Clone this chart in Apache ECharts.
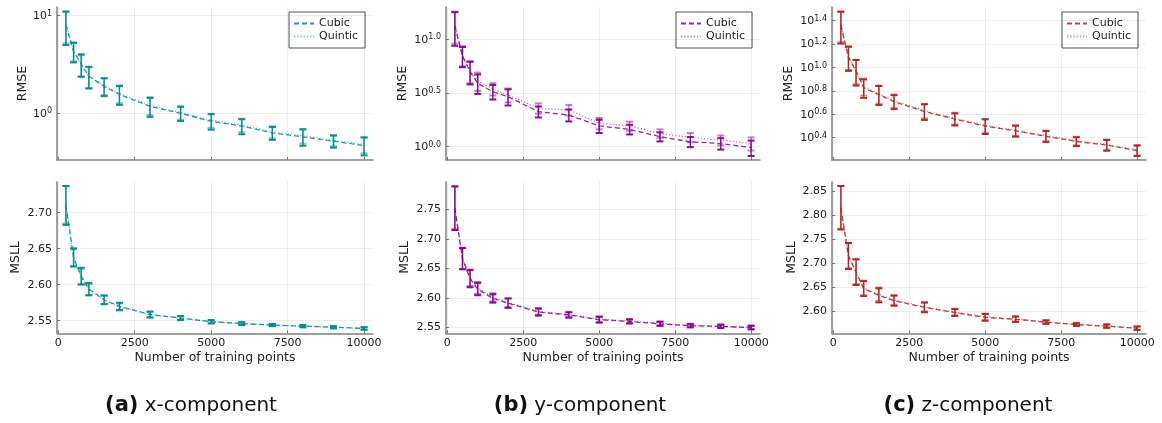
<!DOCTYPE html>
<html>
<head>
<meta charset="utf-8">
<script src="https://cdn.jsdelivr.net/npm/echarts@6/dist/echarts.min.js"></script>
<style>
html, body { margin: 0; padding: 0; background: #fff; }
#chart { width: 1162px; height: 423px; }
</style>
</head>
<body>
<div id="chart"></div>
<script>
var myChart = echarts.init(document.getElementById('chart'), null, {renderer: 'canvas'});

// x values shared by every panel
var trainingPoints = [250, 500, 750, 1000, 1500, 2000, 3000, 4000, 5000, 6000, 7000, 8000, 9000, 10000];
var xTickValues = [0, 2500, 5000, 7500, 10000];

// RMSE, x-component
var rmseCubicX      = [8.0, 4.3, 3.2, 2.4, 1.89, 1.56, 1.18, 1.0, 0.83, 0.74, 0.63, 0.575, 0.518, 0.468];
var rmseCubicXStd   = [3.0, 0.98, 0.82, 0.6, 0.39, 0.34, 0.26, 0.165, 0.15, 0.13, 0.096, 0.11, 0.073, 0.097];
var rmseQuinticX    = [8.1, 4.35, 3.15, 2.38, 1.92, 1.6, 1.21, 1.02, 0.85, 0.76, 0.645, 0.59, 0.53, 0.48];
var rmseQuinticXStd = [2.9, 0.95, 0.8, 0.58, 0.38, 0.33, 0.25, 0.16, 0.14, 0.12, 0.09, 0.1, 0.07, 0.09];
// RMSE, y-component
var rmseCubicY      = [13.3, 7.0, 5.0, 3.9, 3.25, 2.92, 2.12, 1.97, 1.56, 1.45, 1.24, 1.11, 1.07, 0.98];
var rmseCubicYStd   = [4.6, 1.5, 1.2, 0.8, 0.5, 0.5, 0.25, 0.25, 0.22, 0.15, 0.12, 0.12, 0.13, 0.16];
var rmseQuinticY    = [13.6, 7.1, 5.05, 4.1, 3.45, 3.03, 2.28, 2.2, 1.65, 1.56, 1.33, 1.22, 1.15, 1.07];
var rmseQuinticYStd = [4.5, 1.5, 1.15, 0.8, 0.45, 0.45, 0.25, 0.25, 0.2, 0.15, 0.12, 0.12, 0.12, 0.15];
// RMSE, z-component
var rmseCubicZ      = [23.0, 12.2, 9.3, 6.7, 5.86, 5.1, 4.2, 3.62, 3.15, 2.87, 2.58, 2.33, 2.17, 1.95];
var rmseCubicZStd   = [7.0, 2.85, 2.3, 1.2, 1.09, 0.7, 0.64, 0.43, 0.45, 0.31, 0.28, 0.2, 0.23, 0.2];
var rmseQuinticZ    = [23.2, 12.3, 9.4, 6.9, 5.95, 5.2, 4.28, 3.68, 3.2, 2.9, 2.62, 2.36, 2.2, 1.97];
var rmseQuinticZStd = [6.8, 2.8, 2.2, 1.15, 1.05, 0.68, 0.6, 0.42, 0.43, 0.3, 0.27, 0.2, 0.22, 0.2];

// MSLL, x-component
var msllCubicX      = [2.710, 2.638, 2.612, 2.594, 2.579, 2.570, 2.5586, 2.5537, 2.5486, 2.546, 2.544, 2.5425, 2.541, 2.5393];
var msllCubicXStd   = [0.027, 0.0125, 0.0115, 0.0085, 0.006, 0.005, 0.004, 0.0028, 0.0023, 0.002, 0.0015, 0.0016, 0.0015, 0.0018];
var msllQuinticX    = [2.711, 2.637, 2.611, 2.593, 2.579, 2.569, 2.5584, 2.5535, 2.5485, 2.5458, 2.5438, 2.5423, 2.5408, 2.5391];
var msllQuinticXStd = [0.026, 0.012, 0.011, 0.008, 0.006, 0.005, 0.004, 0.0027, 0.0022, 0.002, 0.0015, 0.0015, 0.0014, 0.0017];
// MSLL, y-component
var msllCubicY      = [2.752, 2.6665, 2.6325, 2.615, 2.599, 2.591, 2.576, 2.571, 2.563, 2.560, 2.556, 2.5528, 2.5517, 2.5497];
var msllCubicYStd   = [0.037, 0.018, 0.0145, 0.0105, 0.007, 0.008, 0.006, 0.0045, 0.005, 0.0034, 0.0034, 0.0028, 0.0028, 0.003];
var msllQuinticY    = [2.753, 2.667, 2.634, 2.617, 2.601, 2.592, 2.577, 2.572, 2.564, 2.561, 2.557, 2.5535, 2.5522, 2.550];
var msllQuinticYStd = [0.036, 0.018, 0.014, 0.01, 0.007, 0.0075, 0.0055, 0.0045, 0.0045, 0.0033, 0.0033, 0.0028, 0.0027, 0.003];
// MSLL, z-component
var msllCubicZ      = [2.815, 2.715, 2.6815, 2.6475, 2.6335, 2.6225, 2.6086, 2.598, 2.588, 2.584, 2.578, 2.573, 2.5697, 2.5655];
var msllCubicZStd   = [0.045, 0.027, 0.0265, 0.0155, 0.0145, 0.0105, 0.01, 0.007, 0.007, 0.0055, 0.0035, 0.0028, 0.0035, 0.0035];
var msllQuinticZ    = [2.816, 2.716, 2.683, 2.649, 2.636, 2.624, 2.610, 2.599, 2.589, 2.585, 2.579, 2.574, 2.5705, 2.566];
var msllQuinticZStd = [0.044, 0.026, 0.026, 0.015, 0.014, 0.01, 0.0095, 0.007, 0.0068, 0.0054, 0.0035, 0.0028, 0.0034, 0.0034];

// tick values (RMSE ticks are base-10 exponents)
var rmseTicksX = [0, 1];
var rmseTicksY = [0, 0.5, 1.0];
var rmseTicksZ = [0.4, 0.6, 0.8, 1.0, 1.2, 1.4];
var msllTicksX = [2.55, 2.60, 2.65, 2.70];
var msllTicksY = [2.55, 2.60, 2.65, 2.70, 2.75];
var msllTicksZ = [2.60, 2.65, 2.70, 2.75, 2.80, 2.85];

var fontFamily = 'DejaVu Sans';
var textColor = '#222';
var axisGray = '#808080';
var gridColor = 'rgba(0,0,0,0.07)';

var panels = [
    {tag: '(a)', caption: 'x-component', color: '0,139,139', left: 57, width: 316, captionX: 191,
        rmse: {cubic: rmseCubicX, cubicStd: rmseCubicXStd, quintic: rmseQuinticX, quinticStd: rmseQuinticXStd,
            min: -0.478, max: 1.089, ticks: rmseTicksX, digits: 0, nameGap: 28},
        msll: {cubic: msllCubicX, cubicStd: msllCubicXStd, quintic: msllQuinticX, quinticStd: msllQuinticXStd,
            min: 2.5325, max: 2.743, ticks: msllTicksX, nameGap: 35}},
    {tag: '(b)', caption: 'y-component', color: '139,0,139', left: 446, width: 314, captionX: 580,
        rmse: {cubic: rmseCubicY, cubicStd: rmseCubicYStd, quintic: rmseQuinticY, quinticStd: rmseQuinticYStd,
            min: -0.124, max: 1.301, ticks: rmseTicksY, digits: 1, nameGap: 37},
        msll: {cubic: msllCubicY, cubicStd: msllCubicYStd, quintic: msllQuinticY, quinticStd: msllQuinticYStd,
            min: 2.540, max: 2.797, ticks: msllTicksY, nameGap: 35}},
    {tag: '(c)', caption: 'z-component', color: '178,34,34', left: 832, width: 314, captionX: 968,
        rmse: {cubic: rmseCubicZ, cubicStd: rmseCubicZStd, quintic: rmseQuinticZ, quinticStd: rmseQuinticZStd,
            min: 0.209, max: 1.517, ticks: rmseTicksZ, digits: 1, nameGap: 37},
        msll: {cubic: msllCubicZ, cubicStd: msllCubicZStd, quintic: msllQuinticZ, quinticStd: msllQuinticZStd,
            min: 2.555, max: 2.869, ticks: msllTicksZ, nameGap: 34}}
];

function lineData(means, isLog) {
    return trainingPoints.map(function (x, i) {
        return [x, isLog ? Math.log10(means[i]) : means[i]];
    });
}

function barData(means, stds, isLog) {
    return trainingPoints.map(function (x, i) {
        var lo = means[i] - stds[i], hi = means[i] + stds[i];
        return isLog ? [x, Math.log10(lo), Math.log10(hi)] : [x, lo, hi];
    });
}

function errorBars(color) {
    return function (params, api) {
        var top = api.coord([api.value(0), api.value(2)]);
        var bot = api.coord([api.value(0), api.value(1)]);
        var stem = {stroke: color, lineWidth: 1.4};
        var cap = {stroke: color, lineWidth: 2};
        return {
            type: 'group',
            children: [
                {type: 'line', shape: {x1: top[0], y1: top[1], x2: bot[0], y2: bot[1]}, style: stem},
                {type: 'line', shape: {x1: top[0] - 3.5, y1: top[1], x2: top[0] + 3.5, y2: top[1]}, style: cap},
                {type: 'line', shape: {x1: bot[0] - 3.5, y1: bot[1], x2: bot[0] + 3.5, y2: bot[1]}, style: cap}
            ]
        };
    };
}

function xAxisFor(gridIndex, bottomRow) {
    return {
        type: 'value', gridIndex: gridIndex, min: -42, max: 10292,
        axisLine: {show: true, onZero: false, lineStyle: {color: axisGray, width: 1.5}},
        axisTick: {show: true, inside: true, length: 3, customValues: xTickValues, lineStyle: {color: axisGray}},
        axisLabel: {show: bottomRow, customValues: xTickValues, margin: 4,
            formatter: function (v) { return String(v); },
            fontSize: 11, fontFamily: fontFamily, color: textColor},
        splitLine: {show: false},
        name: bottomRow ? 'Number of training points' : '',
        nameLocation: 'middle', nameGap: 18,
        nameTextStyle: {fontSize: 12.5, fontFamily: fontFamily, color: textColor}
    };
}

function yAxisFor(gridIndex, m, isLog) {
    var label = {customValues: m.ticks, margin: 5, fontSize: 11, fontFamily: fontFamily, color: textColor};
    if (isLog) {
        label.formatter = function (v) { return '{b|10}{s|' + v.toFixed(m.digits) + '}'; };
        label.rich = {
            b: {fontSize: 11, fontFamily: fontFamily, color: textColor, lineHeight: 12, verticalAlign: 'bottom'},
            s: {fontSize: 8, fontFamily: fontFamily, color: textColor, lineHeight: 12, verticalAlign: 'top', padding: [0, 0, 3, 0]}
        };
    } else {
        label.formatter = function (v) { return v.toFixed(2); };
    }
    return {
        type: 'value', gridIndex: gridIndex, min: m.min, max: m.max,
        axisLine: {show: true, onZero: false, lineStyle: {color: axisGray, width: 1.5}},
        axisTick: {show: true, inside: true, length: 3, customValues: m.ticks, lineStyle: {color: axisGray}},
        axisLabel: label,
        splitLine: {show: false},
        name: isLog ? 'RMSE' : 'MSLL',
        nameLocation: 'middle', nameGap: m.nameGap, nameRotate: 90,
        nameTextStyle: {fontSize: 12.5, fontFamily: fontFamily, color: textColor}
    };
}

var grids = [], xAxes = [], yAxes = [], series = [], legends = [], graphics = [];

panels.forEach(function (p, k) {
    var rows = [{m: p.rmse, isLog: true, top: 7, height: 153}, {m: p.msll, isLog: false, top: 181.7, height: 151.6}];
    rows.forEach(function (r, j) {
        var g = 2 * k + j;
        grids.push({left: p.left, top: r.top, width: p.width, height: r.height});
        xAxes.push(xAxisFor(g, j === 1));
        yAxes.push(yAxisFor(g, r.m, r.isLog));
        // faint grid lines at the tick values
        series.push({
            name: 'grid ' + g, type: 'line', xAxisIndex: g, yAxisIndex: g, z: 1, silent: true,
            data: [],
            markLine: {
                silent: true, symbol: ['none', 'none'], animation: false,
                label: {show: false},
                lineStyle: {color: gridColor, width: 1, type: 'solid'},
                emphasis: {disabled: true},
                data: xTickValues.map(function (v) { return {xAxis: v}; })
                    .concat(r.m.ticks.map(function (v) { return {yAxis: v}; }))
            }
        });
        series.push({
            name: 'Cubic ' + p.tag, type: 'line', xAxisIndex: g, yAxisIndex: g,
            symbol: 'none', silent: true, z: 3,
            lineStyle: {color: 'rgba(' + p.color + ',0.85)', width: 1.3, type: [5, 3]},
            itemStyle: {color: 'rgba(' + p.color + ',0.85)'},
            data: lineData(r.m.cubic, r.isLog)
        });
        series.push({
            name: 'Quintic ' + p.tag, type: 'line', xAxisIndex: g, yAxisIndex: g,
            symbol: 'none', silent: true, z: 3,
            lineStyle: {color: 'rgba(' + p.color + ',0.55)', width: 1.3, type: [1.2, 2]},
            itemStyle: {color: 'rgba(' + p.color + ',0.55)'},
            data: lineData(r.m.quintic, r.isLog)
        });
        series.push({
            name: 'Quintic err ' + p.tag, type: 'custom', xAxisIndex: g, yAxisIndex: g, z: 4, silent: true,
            renderItem: errorBars('rgba(' + p.color + ',0.5)'),
            encode: {x: 0, y: [1, 2]},
            data: barData(r.m.quintic, r.m.quinticStd, r.isLog)
        });
        series.push({
            name: 'Cubic err ' + p.tag, type: 'custom', xAxisIndex: g, yAxisIndex: g, z: 5, silent: true,
            renderItem: errorBars('rgba(' + p.color + ',0.95)'),
            encode: {x: 0, y: [1, 2]},
            data: barData(r.m.cubic, r.m.cubicStd, r.isLog)
        });
    });
    legends.push({
        data: ['Cubic ' + p.tag, 'Quintic ' + p.tag],
        orient: 'vertical', left: p.left + p.width - 84, top: 12,
        itemWidth: 20, itemHeight: 10, itemGap: 0,
        padding: [5, 7, 5, 4],
        borderColor: '#555', borderWidth: 1, borderRadius: 0, backgroundColor: '#fff',
        selectedMode: false,
        itemStyle: {opacity: 0},
        formatter: function (name) { return name.split(' ')[0]; },
        textStyle: {fontSize: 11, fontFamily: fontFamily, color: textColor, lineHeight: 13}
    });
    graphics.push({
        type: 'text', x: p.captionX, y: 406,
        style: {
            text: '{b|' + p.tag + '} ' + p.caption,
            rich: {b: {fontSize: 21, fontWeight: 'bold', fontFamily: fontFamily, fill: '#111'}},
            fontSize: 20, fontFamily: fontFamily, fill: '#111',
            align: 'center', verticalAlign: 'middle'
        }
    });
});

var option = {
    animation: false,
    backgroundColor: '#fff',
    grid: grids,
    xAxis: xAxes,
    yAxis: yAxes,
    legend: legends,
    graphic: graphics,
    series: series
};

myChart.setOption(option);
</script>
</body>
</html>
